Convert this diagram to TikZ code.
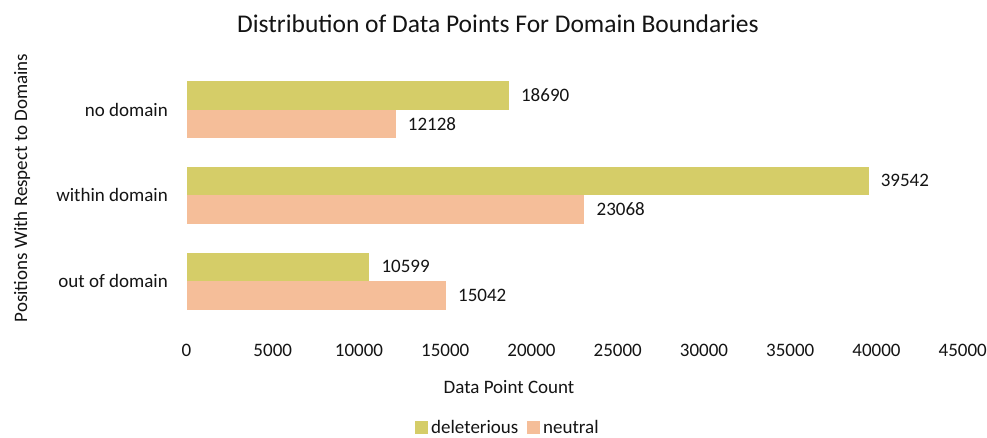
\documentclass[tikz,border=0pt]{standalone}
\usepackage{fontspec}
\setmainfont{Carlito}
\definecolor{delet}{RGB}{213,205,104}
\definecolor{neut}{RGB}{245,190,153}
\definecolor{txt}{RGB}{20,20,20}
\begin{document}
\begin{tikzpicture}[x=1pt,y=-1pt,
  lbl/.style={font=\fontsize{19}{22}\selectfont,text=txt,inner sep=0pt},
  valuelbl/.style={lbl,anchor=west},
  catlbl/.style={lbl,anchor=east},
  ticklbl/.style={lbl,anchor=center},
  delbar/.style={fill=delet,draw=none},
  neubar/.style={fill=neut,draw=none}]
\useasboundingbox[fill=white] (0,0) rectangle (987,437);
% axis scale: zero at x=186.5, 17.25 px per thousand data points
\def\xz{186.5}
\def\sc{17.25}
\def\bh{28.5}
% title
\node[lbl,font=\fontsize{25.5}{30}\selectfont] (title) at (498,24) {Distribution of Data Points For Domain Boundaries};
% bars: \mybars{name}{centre y}{deleterious (thousands)}{label}{neutral (thousands)}{label}
\newcommand\mybars[6]{%
  \fill[delbar] (\xz,#2-\bh) rectangle ({\xz+\sc*#3},#2) coordinate (#1d);
  \fill[neubar] (\xz,#2) rectangle ({\xz+\sc*#5},#2+\bh) coordinate (#1n);
  \node[valuelbl] (#1dv) at ({\xz+\sc*#3+12},#2-\bh/2) {#4};
  \node[valuelbl] (#1nv) at ({\xz+\sc*#5+12},#2+\bh/2) {#6};
}
\mybars{nd}{109.5}{18.690}{18690}{12.128}{12128}
\mybars{wd}{195}{39.542}{39542}{23.068}{23068}
\mybars{od}{281}{10.599}{10599}{15.042}{15042}
% category labels
\node[catlbl] (catnd) at (168,109.5) {no domain};
\node[catlbl] (catwd) at (168,195) {within domain};
\node[catlbl] (catod) at (168,281) {out of domain};
% tick labels
\foreach \k/\v in {0/0,5/5000,10/10000,15/15000,20/20000,25/25000,30/30000,35/35000,40/40000,45/45000}{
  \node[ticklbl] (tick\k) at ({\xz+\sc*\k},350) {\v};
}
% axis titles
\node[lbl] (xtitle) at (509,387) {Data Point Count};
\node[lbl,rotate=90] (ytitle) at (22,188) {Positions With Respect to Domains};
% legend
\fill[delbar] (415,421) rectangle (428,434);
\node[lbl,anchor=west] (legd) at (431,427) {deleterious};
\fill[neubar] (527,421) rectangle (540,434);
\node[lbl,anchor=west] (legn) at (543,427) {neutral};
\end{tikzpicture}
\end{document}
